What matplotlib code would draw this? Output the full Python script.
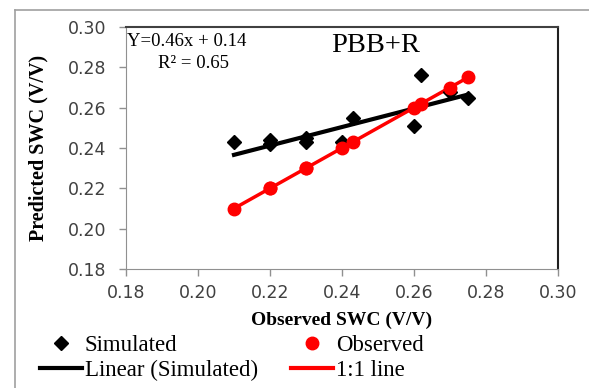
import numpy as np
import matplotlib
matplotlib.use('Agg')
import matplotlib.pyplot as plt
from matplotlib.lines import Line2D

# observed vs simulated soil water content
observed = [0.21, 0.22, 0.22, 0.23, 0.23, 0.24, 0.243, 0.26, 0.262, 0.27, 0.275]
simulated = [0.243, 0.244, 0.242, 0.245, 0.243, 0.243, 0.255, 0.251, 0.276, 0.268, 0.265]
slope = 0.46
intercept = 0.14
r2 = 0.65
ticks = [0.18, 0.20, 0.22, 0.24, 0.26, 0.28, 0.30]

serif = 'Liberation Serif'

fig = plt.figure(figsize=(5.89, 3.88), dpi=100)
ax = fig.add_axes([126/589, 1 - 269/388, (558 - 126)/589, (269 - 27)/388])

obs = np.array(observed)
ax.plot(obs, obs, color='red', lw=2.5, zorder=2)
ax.plot(obs, obs, 'o', color='red', ms=9, zorder=3)
xs = np.array([obs.min(), obs.max()])
ax.plot(xs, slope * xs + intercept, color='black', lw=3, zorder=1)
ax.plot(observed, simulated, 'D', color='black', ms=7, zorder=2.5)

ax.set_xlim(0.18, 0.30)
ax.set_ylim(0.18, 0.30)
ax.set_xticks(ticks)
ax.set_yticks(ticks)
ax.set_xticklabels([f'{t:.2f}' for t in ticks])
ax.set_yticklabels([f'{t:.2f}' for t in ticks])
ax.tick_params(direction='out', length=5, width=1, color='#909090',
               labelcolor='#404040', labelsize=12.5)
ax.tick_params(axis='x', pad=6)
ax.tick_params(axis='y', pad=9)
ax.spines['left'].set_color('#909090')
ax.spines['bottom'].set_color('#909090')
ax.spines['top'].set_color('#404040')
ax.spines['right'].set_color('#202020')
ax.spines['top'].set_linewidth(1.5)
ax.spines['right'].set_linewidth(1.5)

ax.set_xlabel('Observed SWC (V/V)', family=serif, weight='bold', fontsize=14, labelpad=7)
ax.set_ylabel('Predicted SWC (V/V)', family=serif, weight='bold', fontsize=14.5, labelpad=14)

fig.text(127/589, 1 - 41/388, f'Y={slope}x + {intercept}', family=serif, fontsize=13.5,
         va='center', ha='left')
fig.text(158/589, 1 - 63/388, f'R\u00b2 = {r2}', family=serif, fontsize=13.5,
         va='center', ha='left')
fig.text(331/589, 1 - 45/388, 'PBB+R', family=serif, fontsize=20.5, va='center', ha='left')

# outer chart frame
fig.add_artist(Line2D([15/589, 15/589], [0, 1 - 10/388], color='#a0a0a0', lw=1.2))
fig.add_artist(Line2D([15/589, 1], [1 - 10/388, 1 - 10/388], color='#a0a0a0', lw=1.2))

handles = [
    Line2D([], [], marker='D', color='black', ls='none', ms=7),
    Line2D([], [], color='black', lw=3),
    Line2D([], [], marker='o', color='red', ls='none', ms=9),
    Line2D([], [], color='red', lw=3),
]
labels = ['Simulated', 'Linear (Simulated)', 'Observed', '1:1 line']
fig.legend(handles, labels, ncol=2, loc='upper left',
           bbox_to_anchor=(40/589, 1 - 335/388), frameon=False,
           prop={'family': serif, 'size': 16.5}, handlelength=1.85,
           handletextpad=0.1, columnspacing=1.45, labelspacing=0.15,
           borderpad=0, borderaxespad=0)

fig.savefig('out.png', dpi=100)
